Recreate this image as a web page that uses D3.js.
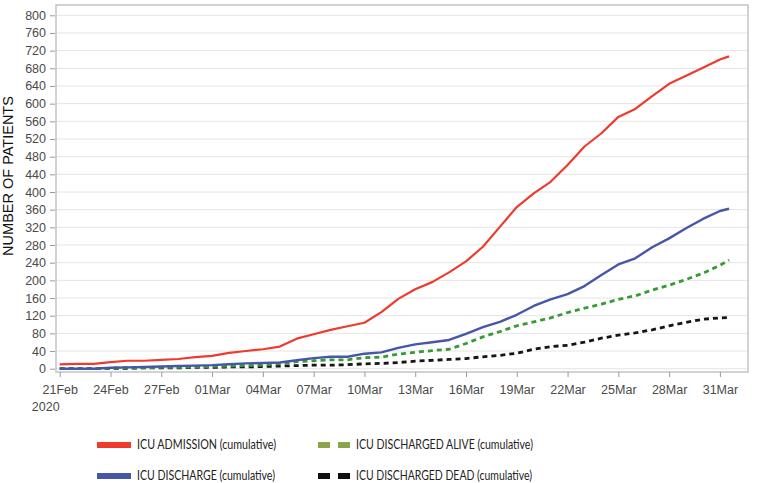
<!DOCTYPE html>
<html>
<head>
<meta charset="utf-8">
<script src="https://cdn.jsdelivr.net/npm/d3@7"></script>
<style>
  html, body { margin: 0; padding: 0; background: #ffffff; }
  svg { display: block; }
</style>
</head>
<body>
<svg id="chart" width="760" height="483"></svg>
<script>
// ---------- DATA ----------
const dates = [
  "2020-02-21","2020-02-22","2020-02-23","2020-02-24","2020-02-25","2020-02-26","2020-02-27",
  "2020-02-28","2020-02-29","2020-03-01","2020-03-02","2020-03-03","2020-03-04","2020-03-05",
  "2020-03-06","2020-03-07","2020-03-08","2020-03-09","2020-03-10","2020-03-11","2020-03-12",
  "2020-03-13","2020-03-14","2020-03-15","2020-03-16","2020-03-17","2020-03-18","2020-03-19",
  "2020-03-20","2020-03-21","2020-03-22","2020-03-23","2020-03-24","2020-03-25","2020-03-26",
  "2020-03-27","2020-03-28","2020-03-29","2020-03-30","2020-03-31","2020-03-31T13:00"
];
const icuAdmission = [10,11,11,15,18,18,20,22,26,29,36,40,44,50,68,78,88,96,104,128,158,
  180,196,218,243,276,321,366,397,423,461,503,533,570,588,617,645,663,681,700,707];
const icuDischarge = [0,0,0,2,3,4,5,6,7,8,10,12,13,14,19,24,27,27,34,37,47,
  55,60,65,79,94,106,122,142,157,169,187,212,236,250,275,295,318,339,357,362];
const icuDischargedAlive = [0,0,0,1,2,2,3,3,4,5,6,7,8,11,16,18,20,20,25,26,33,
  37,41,44,57,72,84,97,106,115,127,137,146,157,165,178,189,202,216,234,246];
const icuDischargedDead = [0,0,0,1,1,2,2,2,3,3,4,4,5,6,7,8,8,9,11,12,14,
  17,19,21,23,27,30,35,44,50,53,60,69,76,81,88,97,105,112,115,116];

const yTicks = [0,40,80,120,160,200,240,280,320,360,400,440,480,520,560,600,640,680,720,760,800];
const xTickDates = ["2020-02-21","2020-02-24","2020-02-27","2020-03-01","2020-03-04","2020-03-07",
  "2020-03-10","2020-03-13","2020-03-16","2020-03-19","2020-03-22","2020-03-25","2020-03-28","2020-03-31"];
const xTickLabels = ["21Feb","24Feb","27Feb","01Mar","04Mar","07Mar","10Mar","13Mar","16Mar",
  "19Mar","22Mar","25Mar","28Mar","31Mar"];
const yearLabel = "2020";
const yTitle = "NUMBER OF PATIENTS";

const seriesNames = [
  "ICU ADMISSION (cumulative)",
  "ICU DISCHARGE (cumulative)",
  "ICU DISCHARGED ALIVE (cumulative)",
  "ICU DISCHARGED DEAD (cumulative)"
];

// ---------- STYLE ----------
const styles = [
  { color: "#ee3b2e", width: 2.2, dash: null, legend: "#ee3b2e" },
  { color: "#4557a6", width: 2.4, dash: null, legend: "#4557a6" },
  { color: "#379b35", width: 2.8, dash: "5,4", legend: "#8aa54b" },
  { color: "#151515", width: 2.8, dash: "5,4", legend: "#111111" }
];

const parse = s => new Date(s + (s.length === 10 ? "T00:00:00Z" : ":00Z"));
const svg = d3.select("#chart");
const frame = { left: 56, right: 748, top: 5, bottom: 372 };

const startDate = parse(dates[0]);
const x = d3.scaleUtc()
  .domain([new Date(startDate.getTime() - 5.3 * 3600e3),
           new Date(parse("2020-03-31").getTime() + 1.66 * 86400e3)])
  .range([frame.left, frame.right]);
const y = d3.scaleLinear().domain([0, 800]).range([368.7, 15.3]);

// gridlines
svg.append("g").selectAll("line").data(yTicks).join("line")
  .attr("x1", frame.left).attr("x2", frame.right)
  .attr("y1", d => y(d)).attr("y2", d => y(d))
  .attr("stroke", "#e4e4e4").attr("stroke-width", 1);

// frame
svg.append("rect")
  .attr("x", frame.left).attr("y", frame.top)
  .attr("width", frame.right - frame.left).attr("height", frame.bottom - frame.top)
  .attr("fill", "none").attr("stroke", "#c4c4c4").attr("stroke-width", 1.5);

// y axis
const yAxis = d3.axisLeft(y).tickValues(yTicks).tickSize(5).tickPadding(4).tickFormat(d3.format("d"));
const gy = svg.append("g").attr("transform", `translate(${frame.left - 1},0)`).call(yAxis);
gy.select(".domain").remove();
gy.selectAll(".tick line").attr("stroke", "#9a9a9a");
gy.selectAll(".tick text").attr("fill", "#4a4a4a")
  .style("font-family", "'Liberation Sans', Arial, sans-serif").style("font-size", "12.5px");

// x axis
const xAxis = d3.axisBottom(x).tickValues(xTickDates.map(parse)).tickSize(5).tickPadding(8)
  .tickFormat((d, i) => xTickLabels[i]);
const gx = svg.append("g").attr("transform", `translate(0,${frame.bottom})`).call(xAxis);
gx.select(".domain").remove();
gx.selectAll(".tick line").attr("stroke", "#9a9a9a");
gx.selectAll(".tick text").attr("fill", "#4a4a4a")
  .style("font-family", "'Liberation Sans', Arial, sans-serif").style("font-size", "12.5px");

svg.append("text").text(yearLabel)
  .attr("x", x(parse(xTickDates[0])) - 14).attr("y", 411).attr("text-anchor", "middle")
  .attr("fill", "#4a4a4a")
  .style("font-family", "'Liberation Sans', Arial, sans-serif").style("font-size", "12.5px");

// y title
svg.append("text").text(yTitle)
  .attr("transform", `translate(13,176) rotate(-90)`)
  .attr("text-anchor", "middle").attr("fill", "#111")
  .style("font-family", "'Liberation Sans', Arial, sans-serif").style("font-size", "14.5px");

// lines
const allSeries = [icuAdmission, icuDischarge, icuDischargedAlive, icuDischargedDead];
const line = d3.line().x((d, i) => x(parse(dates[i]))).y(d => y(d));
const drawOrder = [3, 2, 1, 0];
drawOrder.forEach(k => {
  svg.append("path").datum(allSeries[k])
    .attr("d", line)
    .attr("fill", "none")
    .attr("stroke", styles[k].color)
    .attr("stroke-width", styles[k].width)
    .attr("stroke-linejoin", "round")
    .attr("stroke-dasharray", styles[k].dash);
});

// legend
const legendPos = [
  { x: 97, y: 445 }, { x: 97, y: 476 }, { x: 318, y: 445 }, { x: 318, y: 476 }
];
const textX = [137, 137, 356, 356];
const textW = [139, 138, 177, 176];
seriesNames.forEach((name, k) => {
  const g = svg.append("g");
  const p = legendPos[k];
  if (styles[k].dash) {
    g.append("rect").attr("x", p.x).attr("y", p.y - 3).attr("width", 12).attr("height", 6).attr("fill", styles[k].legend);
    g.append("rect").attr("x", p.x + 20).attr("y", p.y - 3).attr("width", 12).attr("height", 6).attr("fill", styles[k].legend);
  } else {
    g.append("rect").attr("x", p.x).attr("y", p.y - 3).attr("width", 34).attr("height", 6).attr("fill", styles[k].legend);
  }
  g.append("text").text(name).attr("x", textX[k]).attr("y", p.y + 3.5)
    .attr("fill", "#222")
    .attr("textLength", textW[k]).attr("lengthAdjust", "spacingAndGlyphs")
    .style("font-family", "Lato, sans-serif").style("font-size", "13.5px");
});
</script>
</body>
</html>
